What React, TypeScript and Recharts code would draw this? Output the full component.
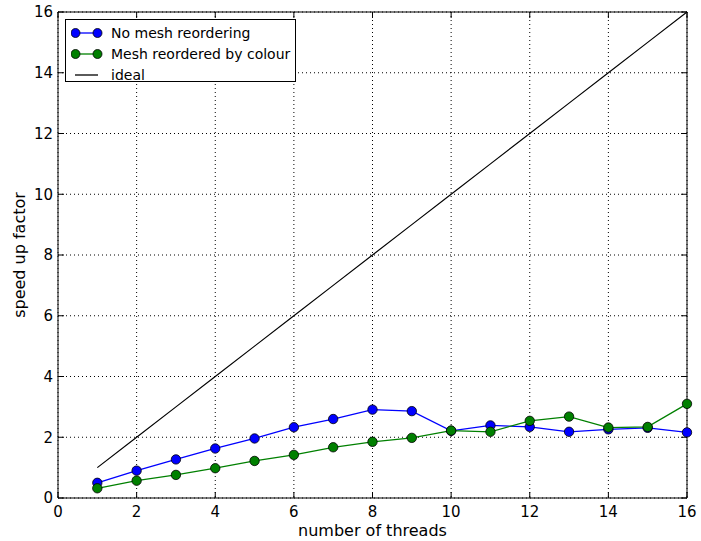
import { LineChart, Line, XAxis, YAxis, CartesianGrid, Legend, Label } from "recharts";

const threads = [1, 2, 3, 4, 5, 6, 7, 8, 9, 10, 11, 12, 13, 14, 15, 16];
const noReorder = [0.5, 0.9, 1.27, 1.63, 1.96, 2.33, 2.6, 2.91, 2.86, 2.21, 2.39, 2.34, 2.18, 2.26, 2.31, 2.16];
const byColour = [0.32, 0.57, 0.76, 0.98, 1.22, 1.42, 1.67, 1.85, 1.98, 2.22, 2.18, 2.54, 2.68, 2.32, 2.34, 3.1];
const ideal = [1, 2, 3, 4, 5, 6, 7, 8, 9, 10, 11, 12, 13, 14, 15, 16];
const ticks = [0, 2, 4, 6, 8, 10, 12, 14, 16];

const data = threads.map((t, i) => ({
  t,
  noReorder: noReorder[i],
  byColour: byColour[i],
  ideal: ideal[i],
}));

const FONT = "'DejaVu Sans', sans-serif";
const tickStyle = { fontSize: 15, fill: "#000", fontFamily: FONT };
const axisLine = { stroke: "#000", strokeWidth: 1 };
const tickLine = { stroke: "#000", strokeWidth: 1 };
const noLabel = () => <g />;

const legendItems = [
  { name: "No mesh reordering", color: "#0000ff", dot: true },
  { name: "Mesh reordered by colour", color: "#008000", dot: true },
  { name: "ideal", color: "#000000", dot: false },
];

function ChartLegend() {
  return (
    <div style={{
      border: "1px solid #000", background: "#fff", width: 231, height: 63,
      boxSizing: "border-box", padding: "2px 0 0 5px", fontFamily: FONT, fontSize: 14,
    }}>
      {legendItems.map(it => (
        <div key={it.name} style={{ display: "flex", alignItems: "center", height: 21 }}>
          <svg width={40} height={14} style={{ flex: "none" }}>
            <line x1={4} x2={27} y1={7} y2={7} stroke={it.color} strokeWidth={1.3} />
            {it.dot && <circle cx={4.5} cy={7} r={4.5} fill={it.color} stroke="#000" strokeWidth={0.8} />}
            {it.dot && <circle cx={26.5} cy={7} r={4.5} fill={it.color} stroke="#000" strokeWidth={0.8} />}
          </svg>
          <span style={{ color: "#000" }}>{it.name}</span>
        </div>
      ))}
    </div>
  );
}

export default function App() {
  return (
    <div style={{ position: "absolute", left: 0, top: 0, background: "#fff" }}>
      <style>{"body{margin:0}"}</style>
      <LineChart width={701} height={541} data={data}
                 margin={{ top: 11, right: 13, left: 0, bottom: 0 }}>
        <CartesianGrid stroke="#000" strokeDasharray="1 3" strokeWidth={1} />
        <XAxis dataKey="t" type="number" domain={[0, 16]} ticks={ticks} height={43}
               axisLine={axisLine} tickLine={tickLine} tickSize={-6} tickMargin={14}
               tick={tickStyle} interval={0}>
          <Label value="number of threads" position="insideBottom" offset={5}
                 style={{ fontSize: 16, fill: "#000", fontFamily: FONT }} />
        </XAxis>
        <XAxis xAxisId="top" dataKey="t" type="number" domain={[0, 16]} ticks={ticks}
               orientation="top" height={1} axisLine={axisLine} tickLine={tickLine}
               tickSize={-6} tick={noLabel} interval={0} />
        <YAxis type="number" domain={[0, 16]} ticks={ticks} width={58}
               axisLine={axisLine} tickLine={tickLine} tickSize={-6} tickMargin={11}
               tick={tickStyle} interval={0}>
          <Label value="speed up factor" angle={-90} position="center" dx={-10}
                 style={{ fontSize: 16, fill: "#000", fontFamily: FONT, textAnchor: "middle" }} />
        </YAxis>
        <YAxis yAxisId="right" type="number" domain={[0, 16]} ticks={ticks}
               orientation="right" width={1} axisLine={axisLine} tickLine={tickLine}
               tickSize={-6} tick={noLabel} interval={0} />
        <Legend layout="horizontal" verticalAlign="middle" align="center" content={<ChartLegend />}
                wrapperStyle={{ left: 65, top: 19, width: 231 }} />
        <Line dataKey="noReorder" name="No mesh reordering" stroke="#0000ff" strokeWidth={1.3}
              dot={{ r: 4.7, fill: "#0000ff", stroke: "#000", strokeWidth: 0.8 }}
              isAnimationActive={false} />
        <Line dataKey="byColour" name="Mesh reordered by colour" stroke="#008000" strokeWidth={1.3}
              dot={{ r: 4.7, fill: "#008000", stroke: "#000", strokeWidth: 0.8 }}
              isAnimationActive={false} />
        <Line dataKey="ideal" name="ideal" xAxisId="top" yAxisId="right" stroke="#000"
              strokeWidth={1.2} dot={false} isAnimationActive={false} />
      </LineChart>
    </div>
  );
}
